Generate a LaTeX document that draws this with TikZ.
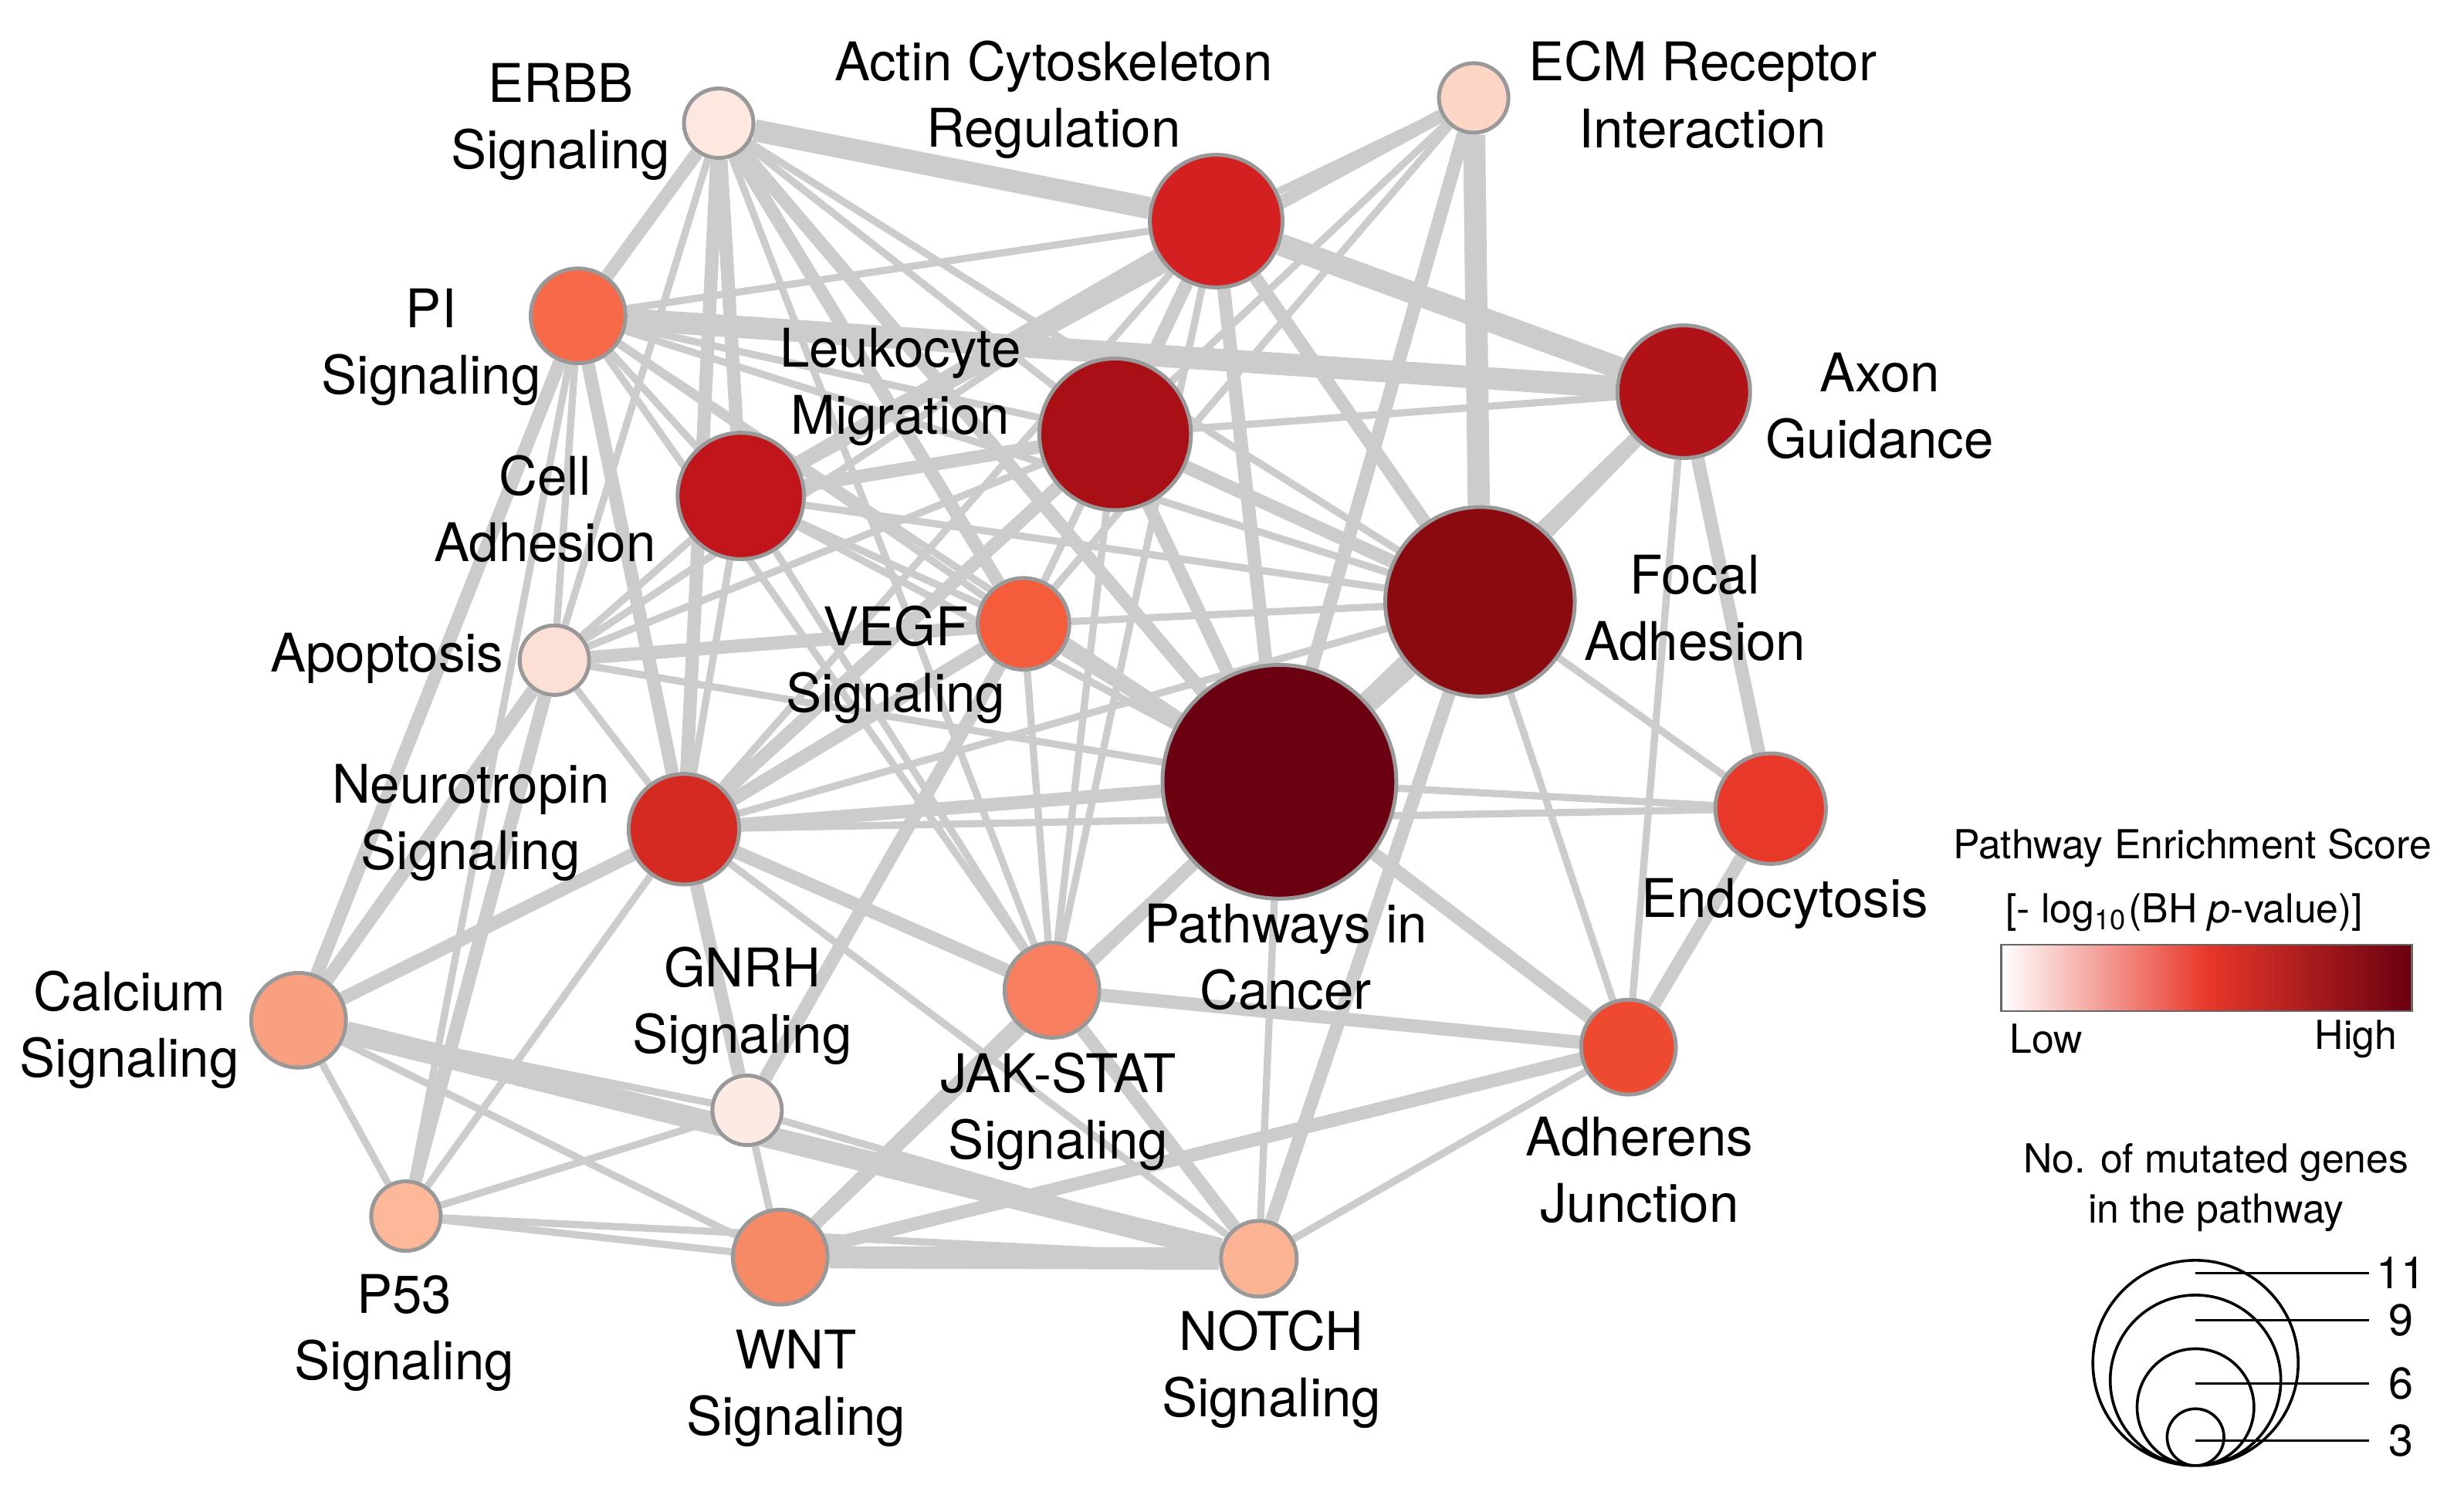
\documentclass[tikz,border=0pt]{standalone}
\usepackage{fontspec}
\setmainfont{TeX Gyre Heros}
\usetikzlibrary{backgrounds}
\begin{document}
\begin{tikzpicture}[x=1cm,y=-1cm,
  pw/.style={circle,draw=gray!80,line width=0.7pt,inner sep=0pt,minimum size=#1},
  lb/.style={align=center,font=\fontsize{9.6}{12}\selectfont},
  lg/.style={font=\fontsize{7.2}{9}\selectfont},
  e1/.style={draw=black!20,line width=1.3pt},
  e2/.style={draw=black!20,line width=2.4pt},
  e3/.style={draw=black!20,line width=4pt}]
\useasboundingbox (0,0) rectangle (15.6,9.4);
\definecolor{cErbb}{HTML}{FDE8E0}\definecolor{cActin}{HTML}{D42020}
\definecolor{cEcm}{HTML}{FCD5C5}\definecolor{cPi}{HTML}{F66A4A}
\definecolor{cLeu}{HTML}{A81015}\definecolor{cAxon}{HTML}{B01218}
\definecolor{cCell}{HTML}{C0161B}\definecolor{cApo}{HTML}{FDE0D5}
\definecolor{cVegf}{HTML}{F45C3C}\definecolor{cFocal}{HTML}{8A0A10}
\definecolor{cPath}{HTML}{6A0010}\definecolor{cEndo}{HTML}{E8382A}
\definecolor{cNeuro}{HTML}{D42A22}\definecolor{cCalc}{HTML}{F8A080}
\definecolor{cGnrh}{HTML}{FDEAE5}\definecolor{cJak}{HTML}{F88060}
\definecolor{cAdh}{HTML}{EE4A30}\definecolor{cP}{HTML}{FCB898}
\definecolor{cWnt}{HTML}{F78A66}\definecolor{cNotch}{HTML}{FBB394}
% nodes
\node[pw=0.44cm,fill=cErbb] (erbb) at (4.55,0.78) {};
\node[pw=0.84cm,fill=cActin] (actin) at (7.70,1.40) {};
\node[pw=0.44cm,fill=cEcm] (ecm) at (9.33,0.62) {};
\node[pw=0.60cm,fill=cPi] (pi) at (3.66,2.00) {};
\node[pw=0.96cm,fill=cLeu] (leu) at (7.06,2.75) {};
\node[pw=0.84cm,fill=cAxon] (axon) at (10.66,2.48) {};
\node[pw=0.80cm,fill=cCell] (cell) at (4.69,3.14) {};
\node[pw=0.44cm,fill=cApo] (apo) at (3.51,4.18) {};
\node[pw=0.58cm,fill=cVegf] (vegf) at (6.48,3.95) {};
\node[pw=1.20cm,fill=cFocal] (focal) at (9.37,3.81) {};
\node[pw=1.48cm,fill=cPath] (path) at (8.10,4.95) {};
\node[pw=0.70cm,fill=cEndo] (endo) at (11.21,5.12) {};
\node[pw=0.70cm,fill=cNeuro] (neuro) at (4.33,5.25) {};
\node[pw=0.60cm,fill=cCalc] (calc) at (1.89,6.46) {};
\node[pw=0.44cm,fill=cGnrh] (gnrh) at (4.73,7.03) {};
\node[pw=0.60cm,fill=cJak] (jak) at (6.66,6.27) {};
\node[pw=0.60cm,fill=cAdh] (adh) at (10.31,6.63) {};
\node[pw=0.44cm,fill=cP] (p53) at (2.57,7.70) {};
\node[pw=0.60cm,fill=cWnt] (wnt) at (4.94,7.96) {};
\node[pw=0.48cm,fill=cNotch] (notch) at (7.97,7.97) {};
% edges
\begin{scope}[on background layer]
\foreach \a/\b/\s in {erbb/actin/e3,erbb/pi/e2,erbb/leu/e1,erbb/cell/e2,erbb/focal/e1,erbb/apo/e1,erbb/vegf/e2,erbb/neuro/e2,erbb/path/e2,erbb/jak/e1,
 actin/axon/e3,actin/leu/e2,actin/focal/e2,actin/path/e2,actin/pi/e1,actin/cell/e2,actin/vegf/e1,actin/neuro/e1,actin/apo/e1,actin/jak/e1,
 ecm/leu/e1,ecm/focal/e3,ecm/path/e2,ecm/cell/e2,ecm/vegf/e1,ecm/actin/e1,
 axon/focal/e2,axon/path/e2,axon/endo/e2,axon/adh/e1,axon/leu/e1,pi/axon/e3,
 leu/cell/e2,leu/focal/e2,leu/path/e2,leu/vegf/e1,leu/neuro/e2,leu/apo/e1,leu/jak/e1,leu/pi/e1,
 focal/path/e3,focal/cell/e1,focal/endo/e1,focal/adh/e1,focal/vegf/e1,focal/neuro/e1,focal/pi/e1,focal/notch/e2,
 path/endo/e1,path/adh/e2,path/notch/e1,path/wnt/e2,path/jak/e1,path/vegf/e2,path/neuro/e2,path/cell/e1,path/apo/e1,path/pi/e1,
 endo/adh/e2,neuro/endo/e1,adh/jak/e2,adh/wnt/e2,adh/notch/e1,
 pi/cell/e1,pi/apo/e1,pi/calc/e2,pi/p53/e1,pi/neuro/e2,pi/vegf/e1,pi/jak/e1,
 cell/apo/e1,cell/neuro/e1,cell/vegf/e1,cell/jak/e1,
 apo/neuro/e1,apo/calc/e2,apo/p53/e2,apo/vegf/e2,
 vegf/neuro/e2,vegf/jak/e1,vegf/gnrh/e2,
 neuro/calc/e2,neuro/gnrh/e2,neuro/wnt/e1,neuro/jak/e2,neuro/p53/e1,neuro/notch/e1,
 calc/gnrh/e1,calc/wnt/e1,calc/notch/e3,calc/p53/e1,
 gnrh/p53/e1,gnrh/wnt/e1,gnrh/notch/e1,
 jak/wnt/e2,jak/notch/e2,wnt/notch/e3,wnt/p53/e1,p53/notch/e1}
 {\path[\s] (\a) -- (\b);}
\end{scope}
% labels
\node[lb] (l1) at (3.55,0.77) {ERBB\\Signaling};
\node[lb] (l2) at (6.67,0.63) {Actin Cytoskeleton\\Regulation};
\node[lb] (l3) at (10.78,0.60) {ECM Receptor\\Interaction};
\node[lb] (l4) at (2.73,2.20) {PI\\Signaling};
\node[lb] (l5) at (5.70,2.45) {Leukocyte\\Migration};
\node[lb] (l6) at (11.90,2.57) {Axon\\Guidance};
\node[lb] (l7) at (3.45,3.22) {Cell\\Adhesion};
\node[lb] (l8) at (2.45,4.17) {Apoptosis};
\node[lb] (l9) at (5.67,4.21) {VEGF\\Signaling};
\node[lb] (l10) at (10.73,3.85) {Focal\\Adhesion};
\node[lb] (l11) at (8.14,6.06) {Pathways in\\Cancer};
\node[lb] (l12) at (11.30,5.72) {Endocytosis};
\node[lb] (l13) at (2.98,5.21) {Neurotropin\\Signaling};
\node[lb] (l14) at (0.82,6.52) {Calcium\\Signaling};
\node[lb] (l15) at (4.70,6.37) {GNRH\\Signaling};
\node[lb] (l16) at (6.70,7.04) {JAK-STAT\\Signaling};
\node[lb] (l17) at (10.38,7.41) {Adherens\\Junction};
\node[lb] (l18) at (2.56,8.44) {P53\\Signaling};
\node[lb] (l19) at (5.04,8.79) {WNT\\Signaling};
\node[lb] (l20) at (8.05,8.67) {NOTCH\\Signaling};
% legend
\node[lg] (t1) at (13.88,5.37) {Pathway Enrichment Score};
\node[lg] (t2) at (13.83,5.78) {[- log\textsubscript{10}(BH \textit{p}-value)]};
\shade[left color=white,right color=cPath,middle color=cEndo,draw=black!60,line width=0.3pt] (12.67,5.98) rectangle (15.27,6.40);
\node[lg,anchor=west] (lo) at (12.60,6.58) {Low};
\node[lg,anchor=east] (hi) at (15.30,6.58) {High};
\node[lg,align=center] (t3) at (14.03,7.52) {No. of mutated genes\\in the pathway};
\draw[line width=0.5pt] (13.90,8.63) circle (0.65) (13.90,8.74) circle (0.54) (13.90,8.91) circle (0.37) (13.90,9.10) circle (0.18);
\draw[line width=0.4pt] (13.90,8.06)--(15.00,8.06) (13.90,8.36)--(15.00,8.36) (13.90,8.76)--(15.00,8.76) (13.90,9.12)--(15.00,9.12);
\node[lg,font=\fontsize{8}{9}\selectfont] (n11) at (15.20,8.06) {11};
\node[lg,font=\fontsize{8}{9}\selectfont] (n9) at (15.20,8.36) {9};
\node[lg,font=\fontsize{8}{9}\selectfont] (n6) at (15.20,8.76) {6};
\node[lg,font=\fontsize{8}{9}\selectfont] (n3) at (15.20,9.12) {3};
\end{tikzpicture}
\end{document}
